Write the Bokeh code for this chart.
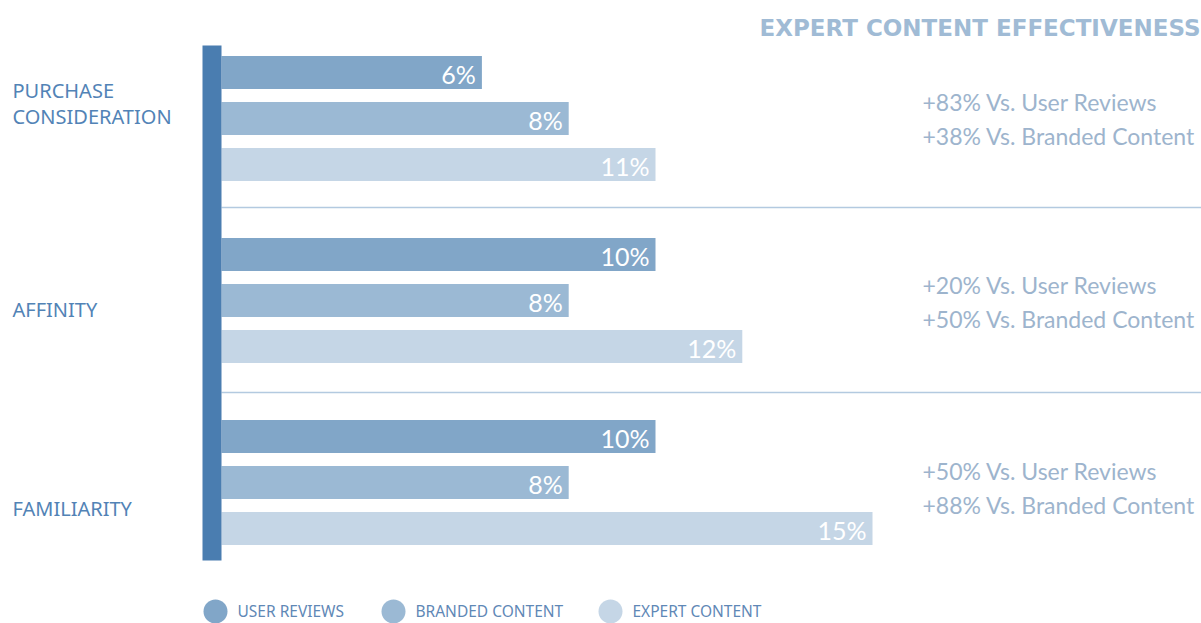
from bokeh.plotting import figure
from bokeh.models import Range1d
from bokeh.core.properties import value
from bokeh.embed import file_html
from bokeh.resources import INLINE

# ---- data ----
categories = ["PURCHASE\nCONSIDERATION", "AFFINITY", "FAMILIARITY"]
series = ["USER REVIEWS", "BRANDED CONTENT", "EXPERT CONTENT"]
user_reviews = [6, 10, 10]
branded_content = [8, 8, 8]
expert_content = [10, 12, 15]          # drawn lengths
value_labels = [["6%", "8%", "11%"], ["10%", "8%", "12%"], ["10%", "8%", "15%"]]
notes_user = ["+83% Vs. User Reviews", "+20% Vs. User Reviews", "+50% Vs. User Reviews"]
notes_branded = ["+38% Vs. Branded Content", "+50% Vs. Branded Content", "+88% Vs. Branded Content"]
title = "EXPERT CONTENT EFFECTIVENESS"

colors = ["#81A6C8", "#9BB9D4", "#C5D6E6"]
W, H = 1201, 623
X0, SCALE = 221.0, 43.4   # pixel of value 0, pixels per percent


def px(x):
    return (x - X0) / SCALE


p = figure(width=W, height=H, output_backend="svg", toolbar_location=None,
           x_range=Range1d(px(0), px(W)), y_range=Range1d(H, 0),
           min_border=0, min_border_left=0, min_border_right=0,
           min_border_top=0, min_border_bottom=0)
p.axis.visible = False
p.grid.visible = False
p.outline_line_color = None
p.background_fill_color = "white"

group_top = [72, 254, 436]
step = 46
bar_h = 33
all_vals = [user_reviews, branded_content, expert_content]

# separators
for yy in [207, 392]:
    p.segment(x0=[0], x1=[px(W)], y0=[yy], y1=[yy], line_color="#B3CAE0", line_width=1.5)

for s in range(3):
    ys = [group_top[g] + s * step for g in range(3)]
    vals = all_vals[s]
    p.hbar(y=ys, left=0, right=vals, height=bar_h, fill_color=colors[s], line_color=None)
    p.text(x=[v - 6 / SCALE for v in vals], y=[y + 1 for y in ys],
           text=[value_labels[g][s] for g in range(3)],
           text_color="white", text_font=value("Lato"), text_font_size="25px",
           text_align="right", text_baseline="middle")

# axis spine bar
p.quad(left=[px(202)], right=[0], top=[45], bottom=[560], fill_color="#4A7DB0", line_color=None)

# category labels
cat_y = [103, 309, 508]
p.text(x=[px(12)] * 3, y=cat_y, text=categories, text_color="#5283B6",
       text_font=value("Noto Sans"), text_font_size="20px",
       text_align="left", text_baseline="middle", text_line_height=0.95)

# notes
note_y1 = [101, 284, 470]
p.text(x=[px(922)] * 3, y=note_y1, text=notes_user, text_color="#9DB4CD",
       text_font=value("Lato"), text_font_size="23px", text_align="left", text_baseline="middle")
p.text(x=[px(922)] * 3, y=[y + 34 for y in note_y1], text=notes_branded, text_color="#9DB4CD",
       text_font=value("Lato"), text_font_size="23px", text_align="left", text_baseline="middle")

# title
p.text(x=[px(1200)], y=[27], text=[title], text_color="#A0BBD5",
       text_font=value("DejaVu Sans"), text_font_style="bold", text_font_size="23px",
       text_align="right", text_baseline="middle")

# legend
leg_x = [215, 393, 610]
p.scatter(x=[px(x) for x in leg_x], y=[611] * 3, size=24, fill_color=colors, line_color=None)
p.text(x=[px(x + 22) for x in leg_x], y=[610] * 3, text=series, text_color="#5F88B6",
       text_font=value("Noto Sans"), text_font_size="15.5px", text_align="left", text_baseline="middle")

open("out.html", "w").write(file_html(p, INLINE))
